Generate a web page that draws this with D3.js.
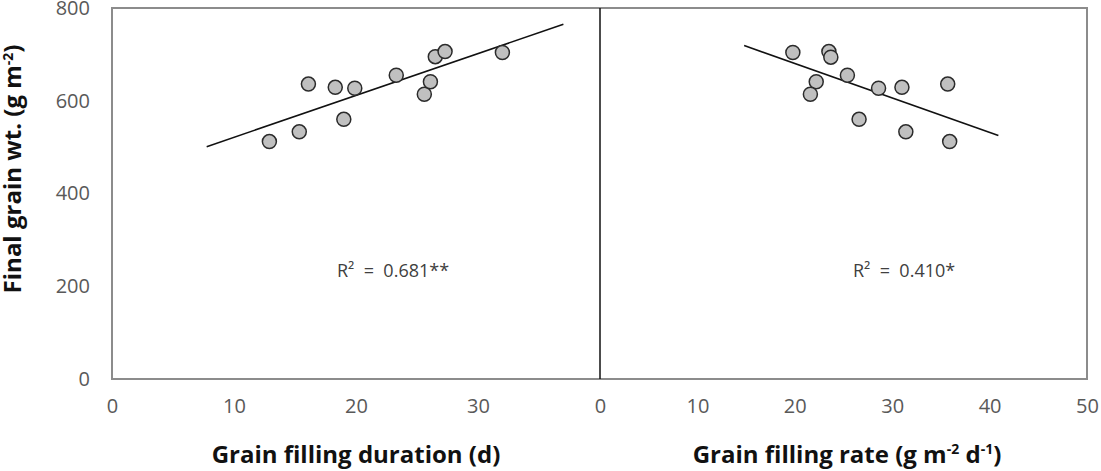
<!DOCTYPE html>
<html>
<head>
<meta charset="utf-8">
<script src="https://cdn.jsdelivr.net/npm/d3@7"></script>
<style>
  body { margin: 0; background: #fff; }
  svg text { font-family: "Open Sans", "Noto Sans", sans-serif; }
</style>
</head>
<body>
<div id="chart"></div>
<script>
// grain filling duration (d) vs final grain wt. (g m-2)
const durationX = [12.9, 15.35, 16.1, 18.3, 19.0, 19.9, 23.3, 25.6, 26.1, 26.5, 27.3, 32.0];
const durationY = [512, 533, 636, 629, 560, 627, 655, 614, 641, 695, 706, 704];
const durationFitX = [7.76, 37.0];
const durationFitY = [501, 765];

// grain filling rate (g m-2 d-1) vs final grain wt.
const rateX = [19.8, 23.5, 23.7, 25.4, 22.2, 21.6, 28.6, 31.0, 35.7, 26.6, 31.4, 35.9];
const rateY = [704, 706, 694, 655, 641, 614, 627, 629, 636, 560, 533, 512];
const rateFitX = [14.8, 40.9];
const rateFitY = [719, 525];

const yTicks = [0, 200, 400, 600, 800];
const durationTicks = [0, 10, 20, 30];
const rateTicks = [0, 10, 20, 30, 40, 50];

const W = 1101, H = 471;
const plotTop = 8, plotBottom = 379;
const plotLeft = 112, plotMid = 600, plotRight = 1087;

const svg = d3.select("#chart").append("svg")
  .attr("width", W).attr("height", H);

const y = d3.scaleLinear().domain([0, 800]).range([plotBottom, plotTop]);
const xDur = d3.scaleLinear().domain([0, 40]).range([plotLeft, plotMid]);
const xRate = d3.scaleLinear().domain([0, 50]).range([plotMid, plotRight]);

// frame
svg.append("rect")
  .attr("x", plotLeft).attr("y", plotTop)
  .attr("width", plotRight - plotLeft).attr("height", plotBottom - plotTop)
  .attr("fill", "none").attr("stroke", "#8c8c8c").attr("stroke-width", 2);

svg.append("line")
  .attr("x1", plotMid).attr("x2", plotMid).attr("y1", plotTop).attr("y2", plotBottom)
  .attr("stroke", "#111").attr("stroke-width", 1.5);

// y tick labels
svg.append("g")
  .attr("transform", `translate(${plotLeft},0)`)
  .call(d3.axisLeft(y).tickValues(yTicks).tickSize(0).tickPadding(22))
  .call(g => g.select(".domain").remove())
  .selectAll("text")
  .attr("fill", "#595959").style("font-size", "20px");

// x tick labels
function xAxis(scale, ticks) {
  svg.append("g")
    .attr("transform", `translate(0,${plotBottom})`)
    .call(d3.axisBottom(scale).tickValues(ticks).tickSize(0).tickPadding(20))
    .call(g => g.select(".domain").remove())
    .selectAll("text")
    .attr("fill", "#595959").style("font-size", "20px");
}
xAxis(xDur, durationTicks);
xAxis(xRate, rateTicks);

// trend lines + points
function panel(xs, ys, fx, fy, scale) {
  svg.append("line")
    .attr("x1", scale(fx[0])).attr("y1", y(fy[0]))
    .attr("x2", scale(fx[1])).attr("y2", y(fy[1]))
    .attr("stroke", "#111").attr("stroke-width", 1.6);

  svg.append("g").selectAll("circle")
    .data(xs.map((d, i) => [d, ys[i]]))
    .join("circle")
    .attr("cx", d => scale(d[0]))
    .attr("cy", d => y(d[1]))
    .attr("r", 7)
    .attr("fill", "#c0c0c0")
    .attr("stroke", "#2b2b2b")
    .attr("stroke-width", 1.5);
}
panel(durationX, durationY, durationFitX, durationFitY, xDur);
panel(rateX, rateY, rateFitX, rateFitY, xRate);

// R2 labels
svg.append("text").attr("x", 337).attr("y", 277)
  .attr("fill", "#404040").style("font-size", "18px").style("white-space", "pre")
  .text("R²  =  0.681**");
svg.append("text").attr("x", 853).attr("y", 277)
  .attr("fill", "#404040").style("font-size", "18px").style("white-space", "pre")
  .text("R²  =  0.410*");

// axis titles
const yTitle = svg.append("text")
  .attr("transform", "translate(21,169) rotate(-90)")
  .attr("text-anchor", "middle")
  .attr("fill", "#111").style("font-size", "24px").style("font-weight", "bold");
yTitle.append("tspan").text("Final grain wt. (g m");
yTitle.append("tspan").attr("dy", -8).style("font-size", "14px").text("-2");
yTitle.append("tspan").attr("dy", 8).text(")");

svg.append("text")
  .attr("x", 356).attr("y", 463)
  .attr("text-anchor", "middle")
  .attr("fill", "#111").style("font-size", "24px").style("font-weight", "bold")
  .text("Grain filling duration (d)");

const xTitle = svg.append("text")
  .attr("x", 847).attr("y", 463)
  .attr("text-anchor", "middle")
  .attr("fill", "#111").style("font-size", "24px").style("font-weight", "bold");
xTitle.append("tspan").text("Grain filling rate (g m");
xTitle.append("tspan").attr("dy", -9).style("font-size", "14px").text("-2");
xTitle.append("tspan").attr("dy", 9).text(" d");
xTitle.append("tspan").attr("dy", -9).style("font-size", "14px").text("-1");
xTitle.append("tspan").attr("dy", 9).text(")");
</script>
</body>
</html>
